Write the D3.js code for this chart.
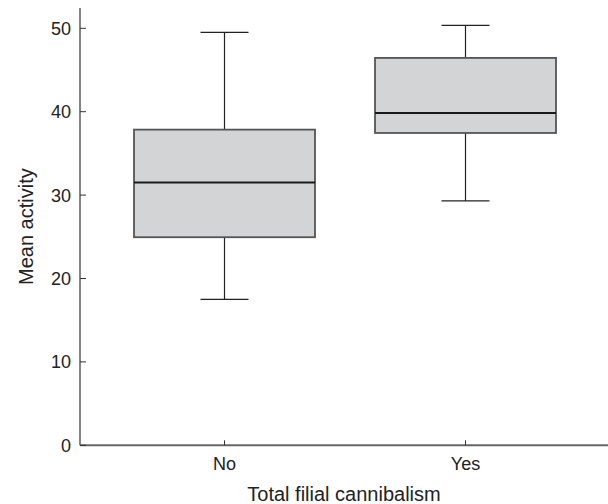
<!DOCTYPE html>
<html>
<head>
  <meta charset="utf-8">
  <title>Boxplot</title>
  <style>
    body { margin: 0; background: #fff; }
    text { font-family: "Liberation Sans", Arial, sans-serif; fill: #222; }
  </style>
</head>
<body>
  <svg width="608" height="504"></svg>
  <script src="https://d3js.org/d3.v7.min.js"></script>
  <script>

  // data
  var groups = ["No", "Yes"];
  var whiskerLow = [17.5, 29.3];
  var q1 = [24.95, 37.45];
  var median = [31.5, 39.85];
  var q3 = [37.85, 46.45];
  var whiskerHigh = [49.5, 50.35];
  var yTicks = [0, 10, 20, 30, 40, 50];

  var svg = d3.select("svg");
  var mLeft = 80, mRight = 608, mTop = 8, mBottom = 445.3;

  var x = d3.scalePoint().domain(groups).range([224.5, 465.5]);
  var y = d3.scaleLinear().domain([0, 50]).range([mBottom, 28.3]);
  var boxW = 181, capW = 48;

  // axes
  svg.append("line")
    .attr("x1", mLeft).attr("x2", mLeft).attr("y1", mTop).attr("y2", mBottom)
    .attr("stroke", "#333").attr("stroke-width", 1.2);
  svg.append("line")
    .attr("x1", mLeft).attr("x2", mRight).attr("y1", mBottom).attr("y2", mBottom)
    .attr("stroke", "#666").attr("stroke-width", 2);

  svg.selectAll(".ytick").data(yTicks).enter().append("line")
    .attr("x1", mLeft).attr("x2", mLeft + 6)
    .attr("y1", function(d) { return y(d); }).attr("y2", function(d) { return y(d); })
    .attr("stroke", "#333").attr("stroke-width", 1);
  svg.selectAll(".ylab").data(yTicks).enter().append("text")
    .attr("x", mLeft - 9).attr("y", function(d) { return y(d); })
    .attr("dy", "0.36em").attr("text-anchor", "end")
    .attr("font-size", 18)
    .text(function(d) { return d; });

  svg.selectAll(".xtick").data(groups).enter().append("line")
    .attr("x1", function(d) { return x(d); }).attr("x2", function(d) { return x(d); })
    .attr("y1", mBottom - 5).attr("y2", mBottom)
    .attr("stroke", "#333").attr("stroke-width", 1);
  svg.selectAll(".xlab").data(groups).enter().append("text")
    .attr("x", function(d) { return x(d); }).attr("y", 470)
    .attr("text-anchor", "middle").attr("font-size", 18)
    .text(function(d) { return d; });

  svg.append("text")
    .attr("x", (mLeft + mRight) / 2).attr("y", 500.5)
    .attr("text-anchor", "middle").attr("font-size", 20)
    .text("Total filial cannibalism");
  svg.append("text")
    .attr("transform", "translate(33," + ((mTop + mBottom) / 2) + ") rotate(-90)")
    .attr("text-anchor", "middle").attr("font-size", 20)
    .text("Mean activity");

  // boxes
  var g = svg.selectAll(".box").data(groups).enter().append("g")
    .attr("class", "box")
    .attr("transform", function(d) { return "translate(" + x(d) + ",0)"; });

  g.append("line")
    .attr("x1", 0).attr("x2", 0)
    .attr("y1", function(d, i) { return y(whiskerHigh[i]); })
    .attr("y2", function(d, i) { return y(whiskerLow[i]); })
    .attr("stroke", "#222").attr("stroke-width", 1.2);
  g.append("line")
    .attr("x1", -capW / 2).attr("x2", capW / 2)
    .attr("y1", function(d, i) { return y(whiskerHigh[i]); })
    .attr("y2", function(d, i) { return y(whiskerHigh[i]); })
    .attr("stroke", "#222").attr("stroke-width", 1.2);
  g.append("line")
    .attr("x1", -capW / 2).attr("x2", capW / 2)
    .attr("y1", function(d, i) { return y(whiskerLow[i]); })
    .attr("y2", function(d, i) { return y(whiskerLow[i]); })
    .attr("stroke", "#222").attr("stroke-width", 1.2);

  g.append("rect")
    .attr("x", -boxW / 2).attr("width", boxW)
    .attr("y", function(d, i) { return y(q3[i]); })
    .attr("height", function(d, i) { return y(q1[i]) - y(q3[i]); })
    .attr("fill", "#d3d4d6").attr("stroke", "#555").attr("stroke-width", 1.8);

  g.append("line")
    .attr("x1", -boxW / 2).attr("x2", boxW / 2)
    .attr("y1", function(d, i) { return y(median[i]); })
    .attr("y2", function(d, i) { return y(median[i]); })
    .attr("stroke", "#1a1a1a").attr("stroke-width", 2);
  </script>
</body>
</html>
